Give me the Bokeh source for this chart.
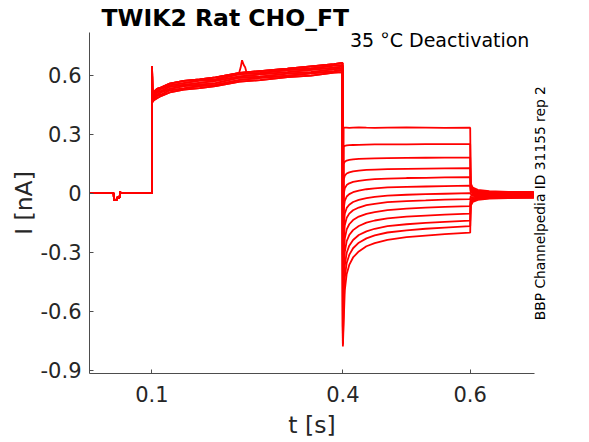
import math
from bokeh.plotting import figure
from bokeh.models import Label, FixedTicker, LinearAxis
from bokeh.embed import file_html
from bokeh.resources import INLINE

# ---- data ----
x_ticks = [0.1, 0.4, 0.6]
y_ticks = [-0.9, -0.6, -0.3, 0.0, 0.3, 0.6]
y_tick_labels = ["-0.9", "-0.6", "-0.3", "0", "0.3", "0.6"]

# baseline (0 .. 0.1 s) with small artefact near 0.045 s
t_base = [0.002, 0.040, 0.0405, 0.0445, 0.0455, 0.0495, 0.0500, 0.0505, 0.051, 0.0995]
i_base = [0.0, 0.0, -0.035, -0.035, -0.022, -0.022, 0.010, 0.0, 0.0, 0.0]

# activation step (0.1 .. 0.4 s): six representative traces of the band
t_act = [0.1, 0.1003, 0.1008, 0.103, 0.108, 0.115, 0.128, 0.15, 0.175, 0.2, 0.238, 0.27, 0.313, 0.35, 0.386, 0.3995]
act_a = [0.0, 0.647, 0.507, 0.515, 0.530, 0.538, 0.557, 0.571, 0.579, 0.589, 0.612, 0.621, 0.633, 0.645, 0.656, 0.662]
act_b = [0.0, 0.645, 0.498, 0.508, 0.519, 0.531, 0.548, 0.560, 0.572, 0.578, 0.605, 0.611, 0.626, 0.634, 0.649, 0.651]
act_c = [0.0, 0.640, 0.489, 0.497, 0.512, 0.520, 0.541, 0.551, 0.561, 0.571, 0.594, 0.604, 0.615, 0.627, 0.638, 0.644]
act_d = [0.0, 0.635, 0.480, 0.490, 0.501, 0.513, 0.530, 0.544, 0.552, 0.560, 0.587, 0.593, 0.608, 0.616, 0.631, 0.633]
act_e = [0.0, 0.628, 0.471, 0.479, 0.494, 0.502, 0.523, 0.533, 0.545, 0.551, 0.576, 0.586, 0.597, 0.609, 0.620, 0.626]
act_f = [0.0, 0.620, 0.462, 0.472, 0.483, 0.495, 0.512, 0.526, 0.534, 0.544, 0.567, 0.575, 0.590, 0.598, 0.613, 0.615]

# artefact bump in the activation band
t_bump = [0.236, 0.2395, 0.2416, 0.2445, 0.2465, 0.249]
i_bump = [0.600, 0.640, 0.676, 0.650, 0.640, 0.610]

# deactivation steps (0.4 .. 0.6 s)
t_deact = [0.4, 0.4012, 0.403, 0.406, 0.41, 0.416, 0.425, 0.437, 0.45, 0.47, 0.5, 0.53, 0.56, 0.5995]
d01 = [-0.700, 0.333, 0.333, 0.333, 0.332, 0.333, 0.334, 0.333, 0.332, 0.333, 0.334, 0.333, 0.332, 0.333]
d02 = [-0.710, 0.236, 0.241, 0.243, 0.244, 0.245, 0.246, 0.247, 0.248, 0.248, 0.248, 0.249, 0.249, 0.249]
d03 = [-0.715, 0.148, 0.160, 0.166, 0.169, 0.172, 0.174, 0.176, 0.177, 0.178, 0.179, 0.180, 0.181, 0.181]
d04 = [-0.720, 0.068, 0.089, 0.100, 0.106, 0.111, 0.115, 0.118, 0.120, 0.122, 0.124, 0.125, 0.126, 0.127]
d05 = [-0.725, -0.007, 0.025, 0.041, 0.050, 0.057, 0.063, 0.068, 0.071, 0.074, 0.077, 0.078, 0.080, 0.081]
d06 = [-0.730, -0.083, -0.039, -0.017, -0.005, 0.005, 0.013, 0.020, 0.024, 0.029, 0.032, 0.034, 0.036, 0.038]
d07 = [-0.735, -0.165, -0.105, -0.075, -0.059, -0.045, -0.034, -0.025, -0.019, -0.013, -0.008, -0.005, -0.003, 0.000]
d08 = [-0.740, -0.239, -0.163, -0.125, -0.104, -0.087, -0.073, -0.061, -0.054, -0.046, -0.040, -0.037, -0.033, -0.030]
d09 = [-0.750, -0.326, -0.231, -0.184, -0.158, -0.137, -0.119, -0.105, -0.096, -0.086, -0.079, -0.074, -0.070, -0.066]
d10 = [-0.755, -0.412, -0.300, -0.244, -0.213, -0.188, -0.167, -0.150, -0.139, -0.128, -0.119, -0.114, -0.109, -0.104]
d11 = [-0.765, -0.499, -0.368, -0.303, -0.267, -0.238, -0.213, -0.194, -0.181, -0.168, -0.158, -0.151, -0.146, -0.140]
d12 = [-0.770, -0.579, -0.430, -0.355, -0.314, -0.280, -0.252, -0.230, -0.215, -0.200, -0.189, -0.181, -0.175, -0.168]
d13 = [-0.780, -0.663, -0.495, -0.411, -0.365, -0.327, -0.296, -0.270, -0.254, -0.237, -0.224, -0.216, -0.208, -0.201]

# tails after return to holding (0.6 .. 0.7 s)
t_tail = [0.6, 0.6008, 0.604, 0.612, 0.63, 0.66, 0.7]
r01 = [0.333, 0.050, 0.028, 0.017, 0.010, 0.007, 0.006]
r02 = [0.249, 0.040, 0.022, 0.013, 0.007, 0.005, 0.004]
r03 = [0.181, 0.030, 0.016, 0.008, 0.004, 0.002, 0.001]
r04 = [0.127, 0.020, 0.009, 0.004, 0.001, -0.001, -0.002]
r05 = [0.081, 0.012, 0.004, 0.000, -0.002, -0.004, -0.004]
r06 = [0.038, 0.005, -0.001, -0.004, -0.005, -0.006, -0.007]
r07 = [0.000, -0.005, -0.007, -0.008, -0.009, -0.009, -0.009]
r08 = [-0.030, -0.015, -0.013, -0.012, -0.012, -0.012, -0.012]
r09 = [-0.066, -0.025, -0.020, -0.017, -0.015, -0.014, -0.014]
r10 = [-0.104, -0.035, -0.026, -0.021, -0.018, -0.017, -0.017]
r11 = [-0.140, -0.045, -0.032, -0.026, -0.022, -0.020, -0.019]
r12 = [-0.168, -0.055, -0.038, -0.030, -0.025, -0.022, -0.022]
r13 = [-0.201, -0.065, -0.045, -0.034, -0.028, -0.025, -0.024]

deacts = [d01, d02, d03, d04, d05, d06, d07, d08, d09, d10, d11, d12, d13]
tails = [r01, r02, r03, r04, r05, r06, r07, r08, r09, r10, r11, r12, r13]
acts = [act_a, act_b, act_c, act_d, act_e, act_f]

title_text = "TWIK2  Rat  CHO_FT"
note_text = "35 °C  Deactivation"
side_text = "BBP Channelpedia ID 31155 rep 2"
side_text_y = -0.646   # lower end of the vertical note

RED = "#ff0000"
AX = "#4d4d4d"
TXT = "#262626"
FONT = "DejaVu Sans"

p = figure(width=589, height=442, x_range=(0.002, 0.701), y_range=(-0.917, 0.817),
           output_backend="svg", toolbar_location=None,
           min_border_left=89, min_border_right=55, min_border_top=32, min_border_bottom=69)
p.background_fill_color = "white"
p.border_fill_color = "white"
p.outline_line_color = None
p.grid.visible = False

p.title.text = title_text
p.title.text_font = FONT
p.title.text_font_size = "23.5px"
p.title.text_font_style = "bold"
p.title.text_color = "black"
p.title.align = "left"
p.title.offset = 12
p.title.standoff = 1

t_all = t_base + t_act + t_deact + t_tail
for k in range(len(deacts)):
    i_all = i_base + acts[k % 6] + deacts[k] + tails[k]
    p.line(t_all, i_all, line_color=RED, line_width=1.8)
p.line(t_bump, i_bump, line_color=RED, line_width=1.8)

for ax in (p.xaxis[0], p.yaxis[0]):
    ax.axis_line_color = AX
    ax.major_tick_line_color = AX
    ax.major_tick_in = 4
    ax.major_tick_out = 0
    ax.minor_tick_line_color = None
    ax.major_label_text_font = FONT
    ax.major_label_text_font_size = "21px"
    ax.major_label_text_color = TXT
    ax.axis_label_text_font = FONT
    ax.axis_label_text_font_size = "23.5px"
    ax.axis_label_text_font_style = "normal"
    ax.axis_label_text_color = TXT

p.xaxis.ticker = FixedTicker(ticks=x_ticks)
p.yaxis.ticker = FixedTicker(ticks=y_ticks)
p.yaxis.major_label_overrides = dict(zip(y_ticks, y_tick_labels))
p.xaxis.major_label_standoff = 12
p.yaxis.major_label_standoff = 8
p.xaxis.axis_label = "t [s]"
p.xaxis.axis_label_standoff = 6
p.yaxis.axis_label = "I [nA]"
p.yaxis.axis_label_standoff = 0

# vertical note on the right, as the only label of a bare right axis
side = LinearAxis(ticker=FixedTicker(ticks=[side_text_y]),
                  major_label_overrides={side_text_y: side_text},
                  major_label_orientation=math.pi / 2,
                  axis_line_color=None, major_tick_line_color=None,
                  minor_tick_line_color=None, major_label_standoff=0,
                  major_label_text_font=FONT, major_label_text_font_size="13.8px",
                  major_label_text_color="black")
p.add_layout(side, "right")

p.add_layout(Label(x=0.7025, y=0.778, text=note_text, text_font=FONT,
                   text_font_size="19px", text_color="black",
                   text_align="right", text_baseline="alphabetic"))

open("out.html", "w").write(file_html(p, INLINE))
